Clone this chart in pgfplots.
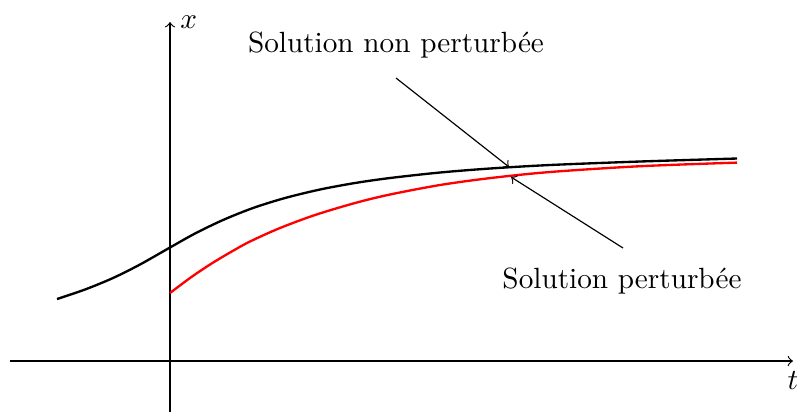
\documentclass[border=0pt]{standalone}
\usepackage{pgfplots}
\pgfplotsset{compat=1.18}

% Unperturbed solution
\pgfplotstableread{
t x
-113 62
-85 71.5
-57 83
-30 96.5
0 113.5
25 127.5
53 141
83 153
115 163
150 171.5
185 178
220 183
270 188.5
320 192.5
380 196
470 199.5
567 202.5
}\unperturbed

% Perturbed solution
\pgfplotstableread{
t x
0 68
20 83
40 96.5
60 108.5
80 119.5
110 133
145 146
185 158
220 166.5
270 176
320 182.9
380 189
470 194.8
567 198.4
}\perturbed

\begin{document}
\begin{tikzpicture}
\begin{axis}[
  hide axis,
  scale only axis,
  x=0.342pt, y=0.342pt,
  xmin=-170, xmax=631,
  ymin=-52, ymax=361,
  clip=false,
]
  \coordinate (bl) at (axis cs:-170,-52);
  \coordinate (tr) at (axis cs:631,361);

  % axes
  \draw[->] (axis cs:-160,0) -- (axis cs:623,0) node[below] {$t$};
  \draw[->] (axis cs:0,-51) -- (axis cs:0,339) node[right] {$x$};

  \addplot[black, thick, smooth, no marks] table[x=t, y=x] {\unperturbed};
  \addplot[red, thick, smooth, no marks] table[x=t, y=x] {\perturbed};

  \node at (axis cs:226,316) {Solution non perturbée};
  \node at (axis cs:452,80) {Solution perturbée};
  \draw[->] (axis cs:226,283) -- (axis cs:339,194);
  \draw[->] (axis cs:453,113) -- (axis cs:341,184);
\end{axis}
\pgfresetboundingbox
\path[use as bounding box] (bl) rectangle (tr);
\end{tikzpicture}
\end{document}
